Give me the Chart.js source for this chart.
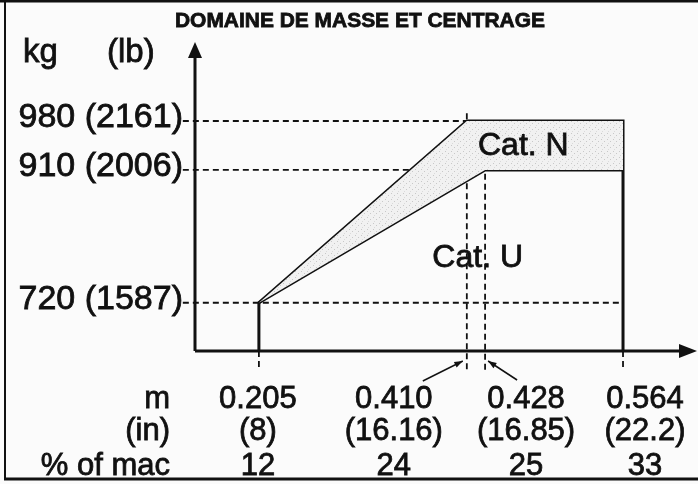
<!DOCTYPE html>
<html>
<head>
<meta charset="utf-8">
<title>Domaine de masse et centrage</title>
<script src="https://cdn.jsdelivr.net/npm/chart.js@4.4.1/dist/chart.umd.min.js"></script>
<style>
  html, body { margin: 0; padding: 0; background: #fbfbfb; }
  canvas { display: block; }
</style>
</head>
<body>
<canvas id="envelope" width="698" height="484"></canvas>
<script>
// --- data ---------------------------------------------------------------
const cgMetres = [0.205, 0.410, 0.428, 0.564];
const cgInches = ['(8)', '(16.16)', '(16.85)', '(22.2)'];
const cgMac = ['12', '24', '25', '33'];
const massKg = [720, 910, 980];
const massLb = [1587, 2006, 2161];

// axes range (kg and m)
const xMin = 0.142, xMax = 0.633;
const yMin = 651, yMax = 1093;

// --- points built from the data ------------------------------------------
const [cgFwd, cgN, cgU, cgAft] = cgMetres;
const [mMin, mU, mN] = massKg;

const outerEnvelope = [
  { x: cgFwd, y: yMin }, { x: cgFwd, y: mMin }, { x: cgN, y: mN },
  { x: cgAft, y: mN }, { x: cgAft, y: yMin }
];
const catULine = [{ x: cgFwd, y: mMin }, { x: cgU, y: mU }, { x: cgAft, y: mU }];
const catNArea = [
  { x: cgFwd, y: mMin }, { x: cgN, y: mN }, { x: cgAft, y: mN },
  { x: cgAft, y: mU }, { x: cgU, y: mU }, { x: cgFwd, y: mMin }
];

const dashStart = 0.130;   // dashed guides start just right of the labels
const below = 624;         // guides go a little under the x axis
const guides = [
  [{ x: dashStart, y: mN }, { x: cgN, y: mN }],
  [{ x: dashStart, y: mU }, { x: cgU, y: mU }],
  [{ x: dashStart, y: mMin }, { x: cgAft, y: mMin }],
  [{ x: cgN, y: mN + 11 }, { x: cgN, y: below }],
  [{ x: cgU, y: mU + 9 }, { x: cgU, y: below }],
  [{ x: cgFwd, y: yMin }, { x: cgFwd, y: below }],
  [{ x: cgAft, y: yMin }, { x: cgAft, y: below }]
];

// stippled grey for the Cat. N band
function stipple() {
  const c = document.createElement('canvas');
  c.width = 6; c.height = 6;
  const g = c.getContext('2d');
  g.fillStyle = '#f1f1f1';
  g.fillRect(0, 0, 6, 6);
  g.fillStyle = '#c8c8c8';
  g.fillRect(1, 1, 1, 1);
  g.fillRect(4, 3, 1, 1);
  g.fillStyle = '#dadada';
  g.fillRect(2, 5, 1, 1);
  return g.createPattern(c, 'repeat');
}

const FONT = '"Liberation Sans", Arial, sans-serif';

// axes, arrows, labels drawn on top of the library scales
const drawing = {
  id: 'drawing',
  afterDraw(chart) {
    const { ctx, chartArea: a } = chart;
    const sx = chart.scales.x, sy = chart.scales.y;
    ctx.save();
    ctx.fillStyle = '#111';
    ctx.strokeStyle = '#111';

    // frame
    ctx.lineWidth = 2;
    ctx.beginPath();
    ctx.moveTo(5, 0); ctx.lineTo(5, 480);
    ctx.stroke();
    ctx.lineWidth = 3;
    ctx.beginPath();
    ctx.moveTo(0, 1); ctx.lineTo(698, 1);
    ctx.moveTo(4, 479); ctx.lineTo(698, 479);
    ctx.stroke();

    // axes with arrows
    ctx.lineWidth = 3;
    ctx.beginPath();
    ctx.moveTo(a.left, a.bottom); ctx.lineTo(a.left, a.top + 10);
    ctx.moveTo(a.left, a.bottom); ctx.lineTo(a.right - 12, a.bottom);
    ctx.stroke();
    ctx.beginPath();
    ctx.moveTo(a.left, a.top); ctx.lineTo(a.left - 7, a.top + 16); ctx.lineTo(a.left + 7, a.top + 16);
    ctx.closePath(); ctx.fill();
    ctx.beginPath();
    ctx.moveTo(a.right + 4, a.bottom); ctx.lineTo(a.right - 14, a.bottom - 7); ctx.lineTo(a.right - 14, a.bottom + 7);
    ctx.closePath(); ctx.fill();

    // text slightly heavier, like the scan
    const txt = (s, x, y, w) => {
      ctx.lineWidth = 0.8;
      if (w) { ctx.fillText(s, x, y, w); ctx.strokeText(s, x, y, w); }
      else { ctx.fillText(s, x, y); ctx.strokeText(s, x, y); }
    };

    // title
    ctx.font = 'bold 21px ' + FONT;
    ctx.textAlign = 'center';
    ctx.textBaseline = 'alphabetic';
    txt('DOMAINE DE MASSE ET CENTRAGE', 360, 27, 370);

    // units
    ctx.font = '33px ' + FONT;
    ctx.textAlign = 'left';
    txt('kg', 23, 62);
    txt('(lb)', 107, 62);

    // y labels
    ctx.font = '34px ' + FONT;
    ctx.textAlign = 'right';
    ctx.textBaseline = 'middle';
    massKg.forEach((kg, i) => {
      txt(kg + ' (' + massLb[i] + ')', 183, sy.getPixelForValue(kg) - 3);
    });

    // category labels
    ctx.font = '32px ' + FONT;
    ctx.textAlign = 'left';
    txt('Cat. N', sx.getPixelForValue(0.421), sy.getPixelForValue(944));
    txt('Cat. U', sx.getPixelForValue(0.376), sy.getPixelForValue(784));

    // bottom rows
    ctx.font = '31px ' + FONT;
    ctx.textBaseline = 'alphabetic';
    const rows = [408, 440, 475];
    ctx.textAlign = 'right';
    txt('m', 170, rows[0]);
    txt('(in)', 170, rows[1]);
    txt('% of mac', 170, rows[2]);
    const shift = [-1, -73, 41, 22];
    ctx.textAlign = 'center';
    cgMetres.forEach((m, i) => {
      const x = sx.getPixelForValue(m) + shift[i];
      txt(m.toFixed(3), x, rows[0]);
      txt(cgInches[i], x, rows[1]);
      txt(cgMac[i], x, rows[2]);
    });

    // little arrows pointing at 0.410 and 0.428
    const arrow = (x0, y0, x1, y1) => {
      ctx.lineWidth = 1.5;
      ctx.beginPath(); ctx.moveTo(x0, y0); ctx.lineTo(x1, y1); ctx.stroke();
      const ang = Math.atan2(y1 - y0, x1 - x0);
      ctx.beginPath();
      ctx.moveTo(x1, y1);
      ctx.lineTo(x1 - 9 * Math.cos(ang - 0.35), y1 - 9 * Math.sin(ang - 0.35));
      ctx.lineTo(x1 - 9 * Math.cos(ang + 0.35), y1 - 9 * Math.sin(ang + 0.35));
      ctx.closePath(); ctx.fill();
    };
    const pN = sx.getPixelForValue(cgN), pU = sx.getPixelForValue(cgU);
    arrow(pN - 44, 381, pN - 4, 361);
    arrow(pU + 32, 380, pU + 3, 361);

    ctx.restore();
  }
};

const line = (data, extra) => Object.assign({
  data, showLine: true, pointRadius: 0, borderColor: '#111',
  borderWidth: 3, fill: false, clip: false, tension: 0
}, extra);

new Chart(document.getElementById('envelope'), {
  type: 'scatter',
  data: {
    datasets: [
      line(catNArea, { borderWidth: 0, borderColor: 'rgba(0,0,0,0)', backgroundColor: stipple(), fill: 'shape' }),
      ...guides.map(g => line(g, { borderWidth: 1.8, borderDash: [6, 4] })),
      line(outerEnvelope),
      line(catULine)
    ]
  },
  options: {
    responsive: false,
    animation: false,
    layout: { padding: { left: 195, right: 5, top: 42, bottom: 133 } },
    plugins: { legend: { display: false }, tooltip: { enabled: false } },
    scales: {
      x: { type: 'linear', min: xMin, max: xMax, display: false },
      y: { type: 'linear', min: yMin, max: yMax, display: false }
    }
  },
  plugins: [drawing]
});
</script>
</body>
</html>
